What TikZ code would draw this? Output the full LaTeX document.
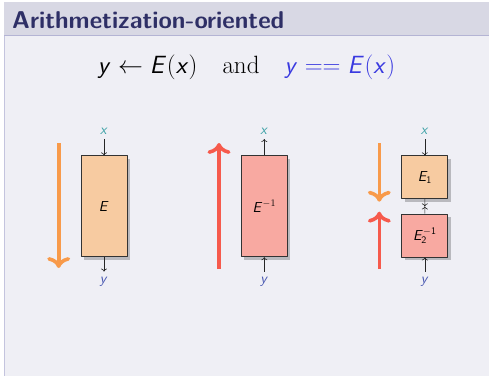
\documentclass[tikz,border=0pt]{standalone}
\usepackage{tikz}
\usetikzlibrary{arrows.meta, positioning, calc, shadows}
\DeclareMathAlphabet{\mathsfit}{OT1}{cmss}{m}{sl}
\definecolor{hdrfill}{HTML}{D8D8E4}
\definecolor{hdrline}{HTML}{B4B4D4}
\definecolor{bodyfill}{HTML}{EFEFF5}
\definecolor{sideline}{HTML}{C4C4DE}
\definecolor{titletext}{HTML}{2E2F66}
\definecolor{eqblue}{HTML}{3A3AE0}
\definecolor{fwdorange}{HTML}{F89A4A}
\definecolor{bwdred}{HTML}{F65A4C}
\definecolor{peach}{HTML}{F7CBA1}
\definecolor{salmon}{HTML}{F8A9A1}
\definecolor{inteal}{HTML}{3AA0A5}
\definecolor{outblue}{HTML}{4555B0}
\definecolor{shadowgray}{HTML}{B9B9BE}
\tikzset{
  permbox/.style={draw=black!80, line width=0.8pt, minimum width=46pt, inner sep=0pt,
                  font=\fontsize{14}{16}\selectfont,
                  drop shadow={shadow xshift=3pt, shadow yshift=-3pt, fill=shadowgray, opacity=1}},
  fwdbox/.style={permbox, fill=peach},
  bwdbox/.style={permbox, fill=salmon},
  iolabel/.style={inner sep=1pt, outer sep=4pt, font=\fontsize{15}{17}\selectfont},
  wire/.style={-{To[length=3pt, width=6pt]}, line width=0.6pt, black!85},
  flow/.style={-{To[scale=1.15]}, line width=3.6pt},
}

\begin{document}
\begin{tikzpicture}[x=1pt, y=-1pt, line join=round]
  \useasboundingbox (0,0) rectangle (490,376);

  %% ── Frame ──
  \fill[bodyfill] (4,36) rectangle (489,376);
  \fill[hdrfill] (4,2) rectangle (489,35.5);
  \draw[hdrline, line width=0.8pt] (4,35.5) -- (489,35.5);
  \draw[sideline, line width=0.8pt] (4.4,36) -- (4.4,376);
  \node[anchor=base west, inner sep=0pt, text=titletext,
        font=\fontsize{24.3}{28}\selectfont\sffamily\bfseries] (title) at (12,28) {Arithmetization-oriented};

  %% ── Equation line ──
  \node[anchor=base, inner sep=0pt, font=\fontsize{25}{29}\selectfont] (eqn) at (246.5,73)
    {$\mathsfit{y} \leftarrow \mathsfit{E}\mathsf{(}\mathsfit{x}\mathsf{)}$\quad and\quad
     \textcolor{eqblue}{$\mathsfit{y} == \mathsfit{E}\mathsf{(}\mathsfit{x}\mathsf{)}$}};

  %% ── Forward (left) ──
  \node[fwdbox, minimum height=101pt] (E) at (104,206.3) {$\mathsfit{E}$};
  \node[iolabel, anchor=base, text=inteal] (xa) at (104,134) {$\mathsfit{x}$};
  \node[iolabel, anchor=base, text=outblue] (ya) at (104,283) {$\mathsfit{y}$};
  \draw[wire] (xa) -- (E.north);
  \draw[wire] (E.south) -- (ya);
  \coordinate (fwdtop) at (58.7,143);
  \coordinate (fwdbot) at (58.7,268);
  \draw[flow, fwdorange] (fwdtop) -- (fwdbot);

  %% ── Backward (middle) ──
  \node[bwdbox, minimum height=101pt] (Einv) at (264.3,206.3) {$\mathsfit{E}^{-1}$};
  \node[iolabel, anchor=base, text=inteal] (xb) at (264.3,134) {$\mathsfit{x}$};
  \node[iolabel, anchor=base, text=outblue] (yb) at (264.3,283) {$\mathsfit{y}$};
  \draw[wire] (Einv.north) -- (xb);
  \draw[wire] (yb) -- (Einv.south);
  \coordinate (bwdbot) at (219,269);
  \coordinate (bwdtop) at (219,143);
  \draw[flow, bwdred] (bwdbot) -- (bwdtop);

  %% ── Meet in the middle (right) ──
  \node[fwdbox, minimum height=43pt] (E1) at (424.8,177.3) {$\mathsfit{E}_{\mathsf{1}}$};
  \node[bwdbox, minimum height=43pt] (E2inv) at (424.8,235.5) {$\mathsfit{E}_{\mathsf{2}}^{-\mathsf{1}}$};
  \node[iolabel, anchor=base, text=inteal] (xc) at (424.8,134) {$\mathsfit{x}$};
  \node[iolabel, anchor=base, text=outblue] (yc) at (424.8,283) {$\mathsfit{y}$};
  \coordinate (mid) at ($(E1.south)!0.5!(E2inv.north)$);
  \draw[wire] (xc) -- (E1.north);
  \draw[wire] (E1.south) -- (mid);
  \draw[wire] (E2inv.north) -- (mid);
  \draw[wire] (yc) -- (E2inv.south);
  \coordinate (mfwdtop) at (379.3,143);
  \coordinate (mfwdbot) at (379.3,201.7);
  \draw[flow, fwdorange] (mfwdtop) -- (mfwdbot);
  \coordinate (mbwdbot) at (379.3,269);
  \coordinate (mbwdtop) at (379.3,211.7);
  \draw[flow, bwdred] (mbwdbot) -- (mbwdtop);
\end{tikzpicture}
\end{document}
